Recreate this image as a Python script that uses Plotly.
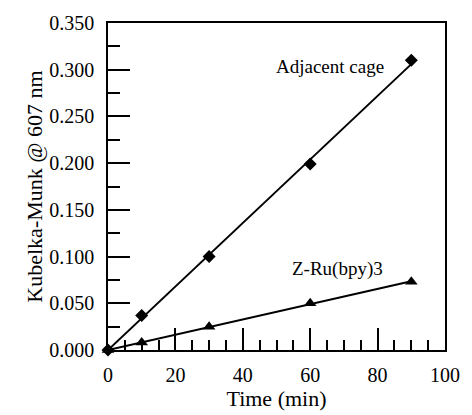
import plotly.graph_objects as go

time_min = [0, 10, 30, 60, 90]
adjacent_cage = [0.000, 0.037, 0.100, 0.199, 0.310]
z_ru_bpy3 = [0.000, 0.008, 0.025, 0.050, 0.073]

fit_x = [0, 90]
fit_adjacent = [0.000, 0.306]
fit_zru = [0.000, 0.0735]

FONT = "Liberation Serif"

fig = go.Figure()
fig.add_trace(go.Scatter(x=fit_x, y=fit_adjacent, mode="lines",
                         line=dict(color="black", width=2), showlegend=False))
fig.add_trace(go.Scatter(x=fit_x, y=fit_zru, mode="lines",
                         line=dict(color="black", width=2), showlegend=False))
fig.add_trace(go.Scatter(x=time_min, y=adjacent_cage, mode="markers",
                         marker=dict(symbol="diamond", size=10, color="black"),
                         cliponaxis=False, showlegend=False))
fig.add_trace(go.Scatter(x=time_min, y=z_ru_bpy3, mode="markers",
                         marker=dict(symbol="triangle-up", size=11, color="black"),
                         cliponaxis=False, showlegend=False))

fig.add_annotation(x=66, y=0.303, text="Adjacent cage", showarrow=False,
                   font=dict(family=FONT, size=19, color="black"), xanchor="center", yanchor="middle")
fig.add_annotation(x=68, y=0.087, text="Z-Ru(bpy)3", showarrow=False,
                   font=dict(family=FONT, size=19, color="black"), xanchor="center", yanchor="middle")

fig.update_layout(
    width=472, height=415,
    margin=dict(l=108, r=16, t=20, b=62),
    paper_bgcolor="white", plot_bgcolor="white",
    font=dict(family=FONT, size=20, color="black"),
    xaxis=dict(range=[0, 100], dtick=20, tick0=0, ticks="inside", ticklen=22, tickwidth=1.5,
               tickcolor="black", showline=True, linecolor="black", linewidth=1.5, mirror=True,
               showgrid=False, zeroline=False, ticklabelstandoff=6,
               minor=dict(dtick=5, tick0=0, ticks="inside", ticklen=10, tickwidth=1.5, tickcolor="black"),
               title=dict(text="Time (min)", font=dict(family=FONT, size=22), standoff=2),
               tickfont=dict(family=FONT, size=20)),
    yaxis=dict(range=[0, 0.35], dtick=0.05, tick0=0, ticks="inside", ticklen=22, tickwidth=1.5,
               tickcolor="black", showline=True, linecolor="black", linewidth=1.5, mirror=True,
               showgrid=False, zeroline=False, tickformat=".3f", ticklabelstandoff=8,
               minor=dict(dtick=0.025, tick0=0, ticks="inside", ticklen=12, tickwidth=1.5, tickcolor="black"),
               title=dict(text="Kubelka-Munk @ 607 nm", font=dict(family=FONT, size=22), standoff=1),
               tickfont=dict(family=FONT, size=20)),
)

fig.write_html("out.html")
